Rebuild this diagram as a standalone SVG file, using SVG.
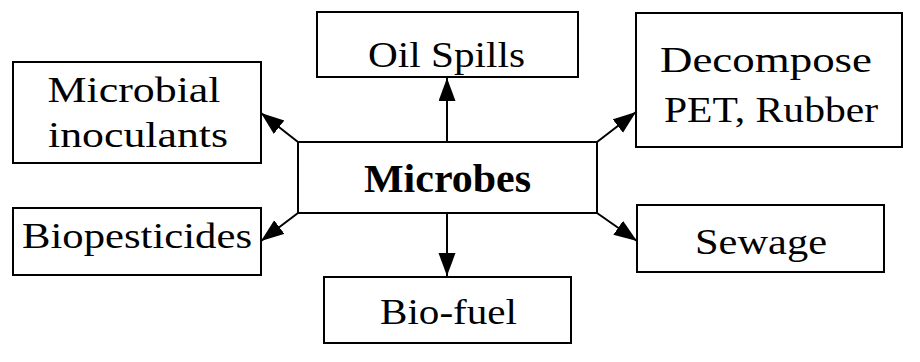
<svg xmlns="http://www.w3.org/2000/svg" width="920" height="362" viewBox="0 0 920 362">
<style>
.box{fill:#fff;stroke:#000;stroke-width:2}
.t{font-family:"Liberation Serif","Times New Roman",serif;font-size:36px;fill:#000;text-anchor:middle}
.b{font-weight:bold;font-size:41px}
.c{stroke:#000;stroke-width:2;fill:none}
</style>
<defs>
<marker id="ah" markerUnits="userSpaceOnUse" markerWidth="24" markerHeight="18" refX="23" refY="8.5" orient="auto">
<path d="M0,0 L23,8.5 L0,17 Z" fill="#000"/>
</marker>
</defs>
<rect width="920" height="362" fill="#fff"/>
<g id="connectors">
<line class="c" x1="447" y1="142" x2="447" y2="78" marker-end="url(#ah)"/>
<line class="c" x1="447" y1="213" x2="447" y2="276" marker-end="url(#ah)"/>
<line class="c" x1="298" y1="142" x2="261" y2="113" marker-end="url(#ah)"/>
<line class="c" x1="597" y1="142" x2="636" y2="112" marker-end="url(#ah)"/>
<line class="c" x1="298" y1="213" x2="261" y2="241" marker-end="url(#ah)"/>
<line class="c" x1="597" y1="213" x2="637" y2="241" marker-end="url(#ah)"/>
</g>
<g id="microbes">
<rect class="box" x="298" y="142" width="299" height="71"/>
<text class="t b" x="447.5" y="192" textLength="167" lengthAdjust="spacingAndGlyphs">Microbes</text>
</g>
<g id="oil-spills">
<rect class="box" x="317" y="12" width="261" height="65"/>
<text class="t" x="446.5" y="67" textLength="157" lengthAdjust="spacingAndGlyphs">Oil Spills</text>
</g>
<g id="microbial-inoculants">
<rect class="box" x="13" y="62" width="248" height="101"/>
<text class="t" x="134" y="102" textLength="173" lengthAdjust="spacingAndGlyphs">Microbial</text>
<text class="t" x="138" y="147" textLength="180" lengthAdjust="spacingAndGlyphs">inoculants</text>
</g>
<g id="decompose">
<rect class="box" x="636" y="13" width="266" height="134"/>
<text class="t" x="766" y="72" textLength="212" lengthAdjust="spacingAndGlyphs">Decompose</text>
<text class="t" x="771" y="122" textLength="214" lengthAdjust="spacingAndGlyphs">PET, Rubber</text>
</g>
<g id="biopesticides">
<rect class="box" x="13" y="208" width="248" height="67"/>
<text class="t" x="137" y="248" textLength="230" lengthAdjust="spacingAndGlyphs">Biopesticides</text>
</g>
<g id="sewage">
<rect class="box" x="637" y="205" width="247" height="67"/>
<text class="t" x="761" y="254" textLength="132" lengthAdjust="spacingAndGlyphs">Sewage</text>
</g>
<g id="bio-fuel">
<rect class="box" x="324" y="277" width="247" height="66"/>
<text class="t" x="448.5" y="324" textLength="137" lengthAdjust="spacingAndGlyphs">Bio-fuel</text>
</g>
</svg>
